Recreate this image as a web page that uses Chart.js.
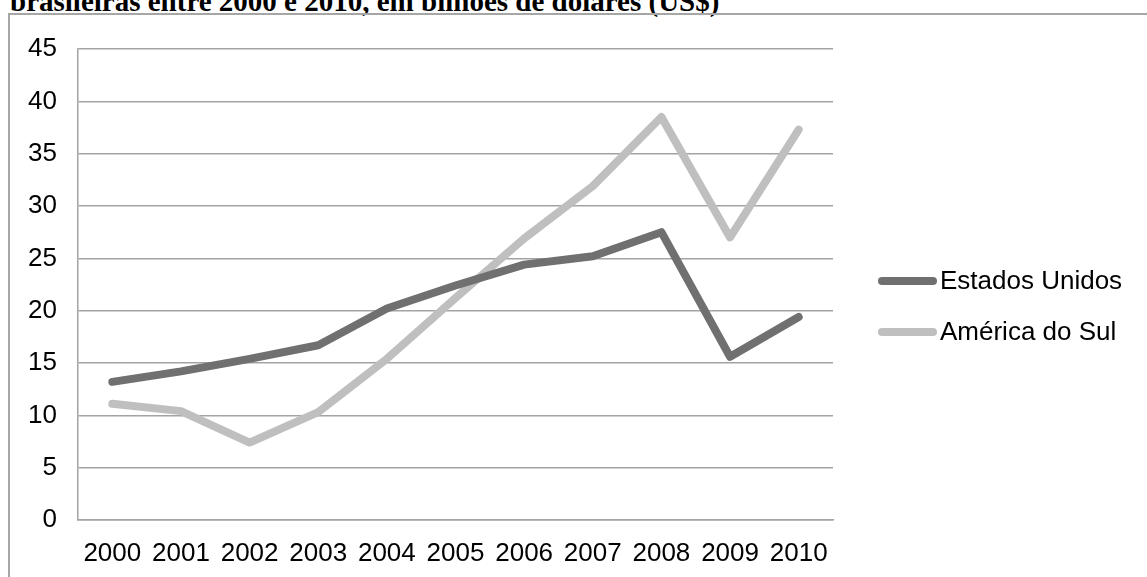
<!DOCTYPE html>
<html>
<head>
<meta charset="utf-8">
<script src="https://cdn.jsdelivr.net/npm/chart.js@4.4.1/dist/chart.umd.min.js"></script>
<style>
  html, body { margin: 0; padding: 0; background: #fff; width: 1147px; height: 577px; overflow: hidden; position: relative; }
  #title { position: absolute; left: 10px; top: -13px; font-family: "Liberation Serif", "Times New Roman", serif; font-weight: bold; font-size: 29px; line-height: 29px; white-space: nowrap; color: #000; }
  #frame { position: absolute; left: 8px; top: 13px; width: 1200px; height: 700px; border-left: 2px solid #a6a6a6; border-top: 2px solid #a6a6a6; }
  #wrap { position: absolute; left: 0; top: 0; width: 1147px; height: 577px; }
</style>
</head>
<body>
<div id="title">brasileiras entre 2000 e 2010, em bilhões de dólares (US$)</div>
<div id="frame"></div>
<div id="wrap"><canvas id="c" width="1147" height="577"></canvas></div>
<script>
const years = ["2000","2001","2002","2003","2004","2005","2006","2007","2008","2009","2010"];
const estadosUnidos = [13.2, 14.2, 15.4, 16.7, 20.2, 22.4, 24.4, 25.2, 27.5, 15.6, 19.4];
const americaDoSul = [11.1, 10.4, 7.4, 10.3, 15.4, 21.2, 26.9, 31.9, 38.5, 27.0, 37.3];
const seriesNames = ["Estados Unidos", "América do Sul"];
const yMin = 0, yMax = 45, yStep = 5;

const FONT = "'Liberation Sans', Arial, Helvetica, sans-serif";
const GRID = "#a3a3a3";
const FS = 26;

const legendPlugin = {
  id: 'customLegend',
  afterDraw(chart) {
    const ctx = chart.ctx;
    const x0 = 882, x1 = 933, tx = 940;
    const ys = [281, 332];
    ctx.save();
    chart.data.datasets.forEach((ds, i) => {
      const y = ys[i];
      ctx.strokeStyle = ds.borderColor;
      ctx.lineWidth = ds.borderWidth;
      ctx.lineCap = 'round';
      ctx.beginPath();
      ctx.moveTo(x0, y);
      ctx.lineTo(x1, y);
      ctx.stroke();
      ctx.fillStyle = '#000';
      ctx.font = FS + "px " + FONT;
      ctx.textBaseline = 'middle';
      ctx.textAlign = 'left';
      ctx.fillText(ds.label, tx, y + 1);
    });
    ctx.restore();
  }
};

new Chart(document.getElementById('c'), {
  type: 'line',
  data: {
    labels: years,
    datasets: [
      { label: seriesNames[0], data: estadosUnidos, borderColor: '#707070', backgroundColor: '#707070', borderWidth: 8, pointRadius: 0, tension: 0, borderCapStyle: 'round', borderJoinStyle: 'round' },
      { label: seriesNames[1], data: americaDoSul, borderColor: '#bfbfbf', backgroundColor: '#bfbfbf', borderWidth: 8, pointRadius: 0, tension: 0, borderCapStyle: 'round', borderJoinStyle: 'round' }
    ]
  },
  options: {
    responsive: false,
    animation: false,
    events: [],
    layout: { padding: { left: 0, top: 49, right: 314, bottom: 0 } },
    plugins: { legend: { display: false }, title: { display: false }, tooltip: { enabled: false } },
    scales: {
      x: {
        offset: true,
        grid: { display: false, drawTicks: false },
        border: { display: true, color: GRID, width: 1.5 },
        ticks: { color: '#000', font: { family: FONT, size: FS }, padding: 18, maxRotation: 0, autoSkip: false },
        afterFit(s) { s.height = 57; }
      },
      y: {
        min: yMin, max: yMax,
        grid: { color: GRID, lineWidth: 1.5, drawTicks: false },
        border: { display: true, color: GRID, width: 1.5 },
        ticks: { stepSize: yStep, color: '#000', font: { family: FONT, size: FS }, padding: 21 },
        afterFit(s) { s.width = 78; }
      }
    }
  },
  plugins: [legendPlugin]
});
</script>
</body>
</html>
